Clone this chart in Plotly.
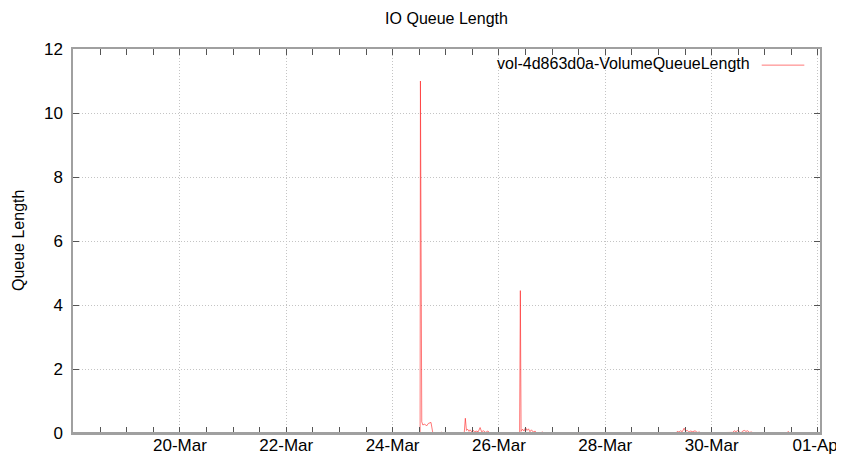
import plotly.graph_objects as go

# ---- data ----
times = [
    "2013-03-18 00:00", "2013-03-24 12:25", "2013-03-24 12:34", "2013-03-24 12:50",
    "2013-03-24 13:10", "2013-03-24 13:40", "2013-03-24 14:30", "2013-03-24 15:20",
    "2013-03-24 16:10", "2013-03-24 17:20", "2013-03-24 17:50", "2013-03-24 18:10",
    "2013-03-24 21:40", "2013-03-24 22:00", "2013-03-24 22:30",
    "2013-03-25 08:20", "2013-03-25 08:50", "2013-03-25 09:20", "2013-03-25 09:50",
    "2013-03-25 10:30", "2013-03-25 11:00", "2013-03-25 11:40", "2013-03-25 12:20",
    "2013-03-25 13:00", "2013-03-25 13:40", "2013-03-25 14:40", "2013-03-25 15:30",
    "2013-03-25 16:10", "2013-03-25 17:00", "2013-03-25 18:00", "2013-03-25 19:00",
    "2013-03-25 20:00",
    "2013-03-26 09:20", "2013-03-26 09:40", "2013-03-26 10:00", "2013-03-26 10:40",
    "2013-03-26 11:20", "2013-03-26 12:00", "2013-03-26 12:40", "2013-03-26 13:20",
    "2013-03-26 14:00", "2013-03-26 14:40", "2013-03-26 15:30", "2013-03-26 16:20",
    "2013-03-26 17:00", "2013-03-26 19:10", "2013-03-26 19:35", "2013-03-26 20:00",
    "2013-03-27 03:20", "2013-03-27 03:40", "2013-03-27 04:00",
    "2013-03-28 22:10", "2013-03-28 22:35", "2013-03-28 23:00",
    "2013-03-29 08:00", "2013-03-29 08:30", "2013-03-29 09:15", "2013-03-29 10:00",
    "2013-03-29 10:45", "2013-03-29 11:35", "2013-03-29 12:15", "2013-03-29 13:00",
    "2013-03-29 13:45", "2013-03-29 14:30", "2013-03-29 15:30", "2013-03-29 16:30",
    "2013-03-29 17:30", "2013-03-29 18:30", "2013-03-29 19:00",
    "2013-03-30 09:00", "2013-03-30 09:30", "2013-03-30 10:15", "2013-03-30 11:00",
    "2013-03-30 11:45", "2013-03-30 12:30", "2013-03-30 13:15", "2013-03-30 14:00",
    "2013-03-30 14:45", "2013-03-30 15:30", "2013-03-30 16:15", "2013-03-30 17:00",
    "2013-03-30 18:00", "2013-03-30 19:00",
    "2013-03-31 00:20", "2013-03-31 00:40", "2013-03-31 01:00",
    "2013-03-31 10:10", "2013-03-31 10:35", "2013-03-31 11:00", "2013-03-31 20:00",
]
queue_length = [
    0.0, 0.0, 11.0, 1.6,
    0.35, 0.25, 0.28, 0.22,
    0.30, 0.33, 0.08, 0.0,
    0.0, 0.03, 0.0,
    0.0, 0.46, 0.08, 0.12,
    0.05, 0.10, 0.04, 0.09,
    0.03, 0.06, 0.04, 0.17,
    0.04, 0.07, 0.02, 0.06,
    0.0,
    0.0, 4.45, 0.05, 0.12,
    0.06, 0.17, 0.08, 0.13,
    0.04, 0.10, 0.03, 0.06,
    0.0, 0.0, 0.04, 0.0,
    0.0, 0.03, 0.0,
    0.0, 0.03, 0.0,
    0.0, 0.05, 0.03, 0.07,
    0.04, 0.15, 0.06, 0.08,
    0.03, 0.06, 0.04, 0.07,
    0.02, 0.03, 0.0,
    0.0, 0.02, 0.07, 0.04,
    0.08, 0.03, 0.0, 0.06,
    0.08, 0.05, 0.07, 0.02,
    0.03, 0.0,
    0.0, 0.02, 0.0,
    0.0, 0.05, 0.0, 0.0,
]
series_name = "vol-4d863d0a-VolumeQueueLength"
x_tick_vals = ["2013-03-20", "2013-03-22", "2013-03-24", "2013-03-26",
               "2013-03-28", "2013-03-30", "2013-04-01"]
x_tick_text = ["20-Mar", "22-Mar", "24-Mar", "26-Mar", "28-Mar", "30-Mar", "01-Apr"]

FONT = "Liberation Sans, Arial, sans-serif"
LINE_COLOR = "rgba(255,30,30,0.6)"
AXIS_COLOR = "#a0a0a0"

fig = go.Figure()
fig.add_trace(go.Scatter(
    x=times, y=queue_length, mode="lines", name=series_name,
    line=dict(color=LINE_COLOR, width=1), showlegend=False,
))

axis_common = dict(
    showline=True, linecolor=AXIS_COLOR, linewidth=1.5, mirror="allticks",
    ticks="inside", ticklen=6, tickcolor="#555555", tickwidth=1,
    showgrid=True, gridcolor="#c4c4c4", griddash="1px,2px", gridwidth=1,
    zeroline=False, automargin=False,
    tickfont=dict(family=FONT, size=17, color="#000000"),
)

fig.update_xaxes(
    type="date", range=["2013-03-17 23:45", "2013-04-01 00:55"],
    tickmode="array", tickvals=x_tick_vals, ticktext=x_tick_text,
    ticklabelstandoff=-4,
    minor=dict(dtick=43200000, tick0="2013-03-18", ticks="inside",
               ticklen=6, tickcolor="#555555", showgrid=False),
    **axis_common,
)
fig.update_yaxes(
    range=[0, 12], dtick=2, tick0=0, ticklabelstandoff=5,
    **axis_common,
)

# bottom border drawn over the zero-valued stretches, as gnuplot does
fig.add_shape(type="line", xref="paper", yref="paper", x0=0, x1=1, y0=0, y1=0,
              line=dict(color=AXIS_COLOR, width=2), layer="above")

# y-axis title placed like the reference (far left, centred on the plot)
fig.add_annotation(
    xref="paper", yref="paper", x=-0.0736, y=0.5, xanchor="center", yanchor="middle",
    text="Queue Length", textangle=-90, showarrow=False,
    font=dict(family=FONT, size=16, color="#000000"),
)

# legend drawn gnuplot-style: text on the left, line sample on the right
fig.add_annotation(
    xref="paper", yref="paper", x=0.909, y=0.961, xanchor="right", yanchor="middle",
    text=series_name, showarrow=False, font=dict(family=FONT, size=16, color="#000000"),
)
fig.add_shape(type="line", xref="paper", yref="paper", x0=0.922, x1=0.979,
              y0=0.958, y1=0.958, line=dict(color=LINE_COLOR, width=1))

fig.update_layout(
    width=836, height=446,
    margin=dict(l=65, r=24, t=41, b=21, autoexpand=False),
    paper_bgcolor="white", plot_bgcolor="white",
    title=dict(text="IO Queue Length", x=0.5, xref="paper", y=0.9776, yref="container",
               xanchor="center", yanchor="middle",
               font=dict(family=FONT, size=16, color="#000000")),
    font=dict(family=FONT, size=16, color="#000000"),
)

fig.write_html("out.html")
